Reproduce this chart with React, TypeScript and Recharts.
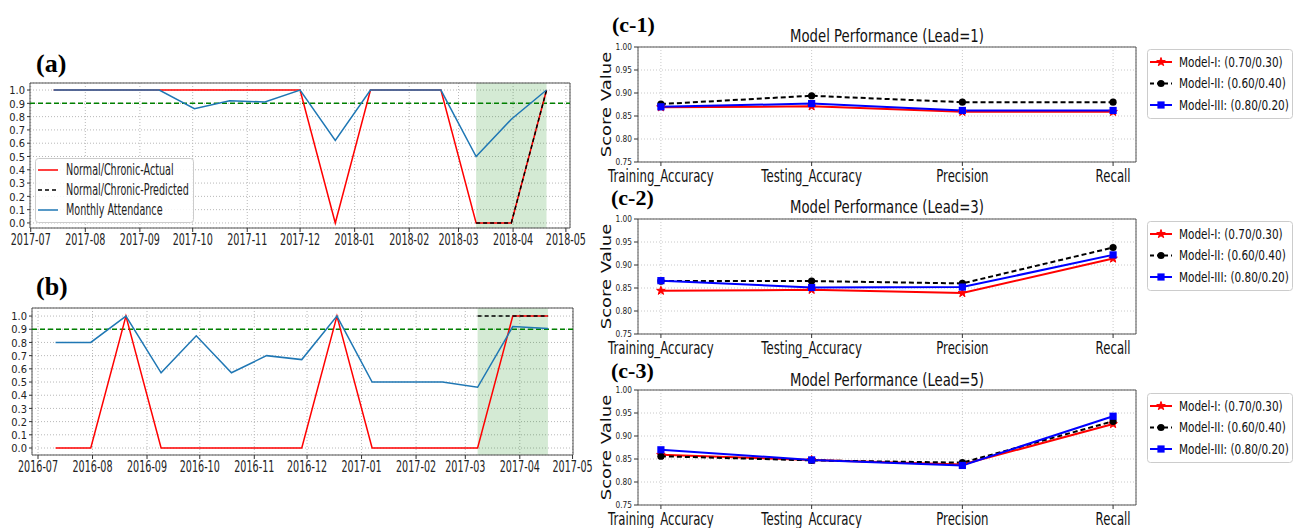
import React from "react";
import {
  LineChart,
  Line,
  XAxis,
  YAxis,
  CartesianGrid,
  ReferenceArea,
  ReferenceLine,
} from "recharts";

const DJ = "'DejaVu Sans', sans-serif";
const SERIF = "'Liberation Serif', 'DejaVu Serif', serif";

// ---- panel (a): 2017-07 .. 2018-05
const datesA = [
  "2017-07-14", "2017-08-03", "2017-08-23", "2017-09-12", "2017-10-02",
  "2017-10-22", "2017-11-11", "2017-12-01", "2017-12-21", "2018-01-10",
  "2018-01-30", "2018-02-19", "2018-03-11", "2018-03-31", "2018-04-20",
];
const attendanceA = [1, 1, 1, 1, 0.86, 0.92, 0.91, 1, 0.62, 1, 1, 1, 0.5, 0.78, 1];
const actualA = [1, 1, 1, 1, 1, 1, 1, 1, 0, 1, 1, 1, 0, 0, 1];
const predDatesA = ["2018-03-11", "2018-03-31", "2018-04-20"];
const predictedA = [0, 0, 1];
const shadeA = ["2018-03-11", "2018-04-20"];
const monthTicksA = [
  "2017-07", "2017-08", "2017-09", "2017-10", "2017-11", "2017-12",
  "2018-01", "2018-02", "2018-03", "2018-04", "2018-05",
];

// ---- panel (b): 2016-07 .. 2017-05
const datesB = [
  "2016-07-11", "2016-07-31", "2016-08-20", "2016-09-09", "2016-09-29",
  "2016-10-19", "2016-11-08", "2016-11-28", "2016-12-18", "2017-01-07",
  "2017-01-27", "2017-02-16", "2017-03-08", "2017-03-28", "2017-04-17",
];
const attendanceB = [0.8, 0.8, 1, 0.57, 0.85, 0.57, 0.7, 0.67, 1, 0.5, 0.5, 0.5, 0.46, 0.92, 0.905];
const actualB = [0, 0, 1, 0, 0, 0, 0, 0, 1, 0, 0, 0, 0, 1, 1];
const predDatesB = ["2017-03-08", "2017-03-28", "2017-04-17"];
const predictedB = [1, 1, 1];
const shadeB = ["2017-03-08", "2017-04-17"];
const monthTicksB = [
  "2016-07", "2016-08", "2016-09", "2016-10", "2016-11", "2016-12",
  "2017-01", "2017-02", "2017-03", "2017-04", "2017-05",
];
const attendanceTicks = [0, 0.1, 0.2, 0.3, 0.4, 0.5, 0.6, 0.7, 0.8, 0.9, 1.0];
const chronicThreshold = 0.9;

// ---- panels (c): model performance
const categories = ["Training_Accuracy", "Testing_Accuracy", "Precision", "Recall"];
const lead1M1 = [0.869, 0.871, 0.859, 0.859];
const lead1M2 = [0.876, 0.894, 0.88, 0.88];
const lead1M3 = [0.87, 0.877, 0.862, 0.862];
const lead3M1 = [0.844, 0.846, 0.839, 0.914];
const lead3M2 = [0.865, 0.865, 0.86, 0.938];
const lead3M3 = [0.866, 0.851, 0.852, 0.922];
const lead5M1 = [0.859, 0.848, 0.838, 0.926];
const lead5M2 = [0.856, 0.847, 0.842, 0.932];
const lead5M3 = [0.87, 0.848, 0.836, 0.943];
const scoreTicks = [0.75, 0.8, 0.85, 0.9, 0.95, 1.0];
const modelNames = ["Model-I: (0.70/0.30)", "Model-II: (0.60/0.40)", "Model-III: (0.80/0.20)"];
const attendanceNames = ["Normal/Chronic-Actual", "Normal/Chronic-Predicted", "Monthly Attendance"];

const toTs = (s: string) =>
  Date.parse(s.length === 7 ? `${s}-01T00:00:00Z` : s.length === 10 ? `${s}T00:00:00Z` : `${s}:00Z`);
const fmtMonth = (t: number) => new Date(t).toISOString().slice(0, 7);

// the source figure is squeezed sideways, so text is drawn with a horizontal scale
function NText(p: {
  x: number; y: number; size: number; sx?: number; anchor?: string; fill?: string;
  family?: string; weight?: string; rotate?: number; children: React.ReactNode;
}) {
  return (
    <text
      transform={`translate(${p.x},${p.y}) scale(${p.sx ?? 1},1)${p.rotate ? ` rotate(${p.rotate})` : ""}`}
      textAnchor={(p.anchor ?? "start") as any}
      dominantBaseline="central"
      fontSize={p.size}
      fontFamily={p.family ?? DJ}
      fontWeight={p.weight}
      fill={p.fill ?? "#111"}
    >
      {p.children}
    </text>
  );
}

function starPath(cx: number, cy: number, R: number, r: number) {
  let d = "";
  for (let k = 0; k < 10; k++) {
    const a = ((-90 + k * 36) * Math.PI) / 180;
    const rad = k % 2 ? r : R;
    d += `${k ? "L" : "M"}${cx + rad * Math.cos(a)},${cy + rad * Math.sin(a)}`;
  }
  return d + "Z";
}

const Star = ({ cx, cy }: any) => <path d={starPath(cx, cy, 4.5, 1.8)} fill="#ff0000" stroke="#ff0000" />;
const Dot = ({ cx, cy }: any) => <circle cx={cx} cy={cy} r={3.6} fill="#000" />;
const Square = ({ cx, cy }: any) => <rect x={cx - 3.6} y={cy - 3.6} width={7.2} height={7.2} fill="#0000ff" />;

interface TimeProps {
  left: number;
  top: number;
  width: number;
  height: number;
  margin: { top: number; right: number; left: number; bottom: number };
  yWidth: number;
  dates: string[];
  attendance: number[];
  actual: number[];
  predDates: string[];
  predicted: number[];
  shade: string[];
  ticks: string[];
  domain: string[];
  yDomain: number[];
}

function TimePanel(p: TimeProps) {
  const att = p.dates.map((d, i) => ({ t: toTs(d), v: p.attendance[i] }));
  const act = p.dates.map((d, i) => ({ t: toTs(d), v: p.actual[i] }));
  const pred = p.predDates.map((d, i) => ({ t: toTs(d), v: p.predicted[i] }));
  return (
    <div style={{ position: "absolute", left: p.left, top: p.top }}>
      <LineChart width={p.width} height={p.height} margin={p.margin}>
        <ReferenceArea x1={toTs(p.shade[0])} x2={toTs(p.shade[1])} fill="#008000" fillOpacity={0.17} stroke="none" />
        <CartesianGrid stroke="#b8b8b8" strokeDasharray="1 2" />
        <XAxis
          type="number"
          dataKey="t"
          domain={[toTs(p.domain[0]), toTs(p.domain[1])]}
          allowDataOverflow
          ticks={p.ticks.map(toTs)}
          interval={0}
          height={24}
          axisLine={false}
          tickSize={4}
          tickMargin={1}
          tickLine={{ stroke: "#333" }}
          tick={(t: any) => (
            <NText x={t.x} y={t.y + 7} size={16} sx={0.6} anchor="middle" fill="#222">
              {fmtMonth(t.payload.value)}
            </NText>
          )}
        />
        <YAxis
          type="number"
          domain={p.yDomain}
          allowDataOverflow
          ticks={attendanceTicks}
          interval={0}
          width={p.yWidth}
          axisLine={false}
          tickSize={3}
          tickMargin={2}
          tickLine={{ stroke: "#333" }}
          tick={(t: any) => (
            <NText x={t.x} y={t.y} size={11} sx={0.9} anchor="end" fill="#222">
              {t.payload.value.toFixed(1)}
            </NText>
          )}
        />
        <ReferenceLine y={chronicThreshold} stroke="#008000" strokeDasharray="5 3" strokeWidth={1.5} />
        <Line data={act} dataKey="v" stroke="#ff0000" strokeWidth={1.5} dot={false} isAnimationActive={false} />
        <Line data={pred} dataKey="v" stroke="#000" strokeDasharray="4 3" strokeWidth={1.5} dot={false} isAnimationActive={false} />
        <Line data={att} dataKey="v" stroke="#1f77b4" strokeWidth={1.5} dot={false} isAnimationActive={false} />
        <ReferenceArea y1={p.yDomain[0]} y2={p.yDomain[1]} fill="none" stroke="#555" strokeWidth={1} />
      </LineChart>
    </div>
  );
}

interface ScoreProps {
  top: number;
  height: number;
  m1: number[];
  m2: number[];
  m3: number[];
}

function ScorePanel(p: ScoreProps) {
  const data = categories.map((c, i) => ({ x: i, name: c, m1: p.m1[i], m2: p.m2[i], m3: p.m3[i] }));
  return (
    <div style={{ position: "absolute", left: 590, top: p.top }}>
      <LineChart width={712} height={p.height} data={data} margin={{ top: 47, right: 166, left: 0, bottom: 0 }}>
        <CartesianGrid stroke="#c8c8c8" strokeDasharray="1 2" />
        <XAxis
          type="number"
          dataKey="x"
          domain={[-0.152, 3.152]}
          allowDataOverflow
          ticks={[0, 1, 2, 3]}
          interval={0}
          height={p.height - 47 - 115}
          axisLine={false}
          tickSize={4}
          tickMargin={2}
          tickLine={{ stroke: "#333" }}
          tick={(t: any) => (
            <NText x={t.x} y={t.y + 8} size={17} sx={0.69} anchor="middle">
              {categories[t.payload.value]}
            </NText>
          )}
        />
        <YAxis
          type="number"
          domain={[0.75, 1.0]}
          ticks={scoreTicks}
          interval={0}
          width={48}
          axisLine={false}
          tickSize={4}
          tickMargin={2}
          tickLine={{ stroke: "#333" }}
          tick={(t: any) => (
            <NText x={t.x} y={t.y} size={9.5} sx={0.78} anchor="end" fill="#222">
              {t.payload.value.toFixed(2)}
            </NText>
          )}
          label={{
            content: ({ viewBox }: any) => (
              <NText x={viewBox.x + 16} y={viewBox.y + viewBox.height / 2} size={18} sx={0.82} rotate={-90} anchor="middle">
                Score Value
              </NText>
            ),
          }}
        />
        <Line dataKey="m1" stroke="#ff0000" strokeWidth={2} dot={(d: any) => <Star key={`s${d.index}`} cx={d.cx} cy={d.cy} />} isAnimationActive={false} />
        <Line dataKey="m2" stroke="#000" strokeWidth={2} strokeDasharray="5 3" dot={(d: any) => <Dot key={`c${d.index}`} cx={d.cx} cy={d.cy} />} isAnimationActive={false} />
        <Line dataKey="m3" stroke="#0000ff" strokeWidth={2} dot={(d: any) => <Square key={`q${d.index}`} cx={d.cx} cy={d.cy} />} isAnimationActive={false} />
        <ReferenceArea y1={0.75} y2={1.0} fill="none" stroke="#555" strokeWidth={1} />
      </LineChart>
    </div>
  );
}

const attendanceStyles = [
  { color: "#ff0000", dash: undefined },
  { color: "#000", dash: "4 3" },
  { color: "#1f77b4", dash: undefined },
];

function AttendanceLegend() {
  return (
    <g>
      <rect x={35.5} y={158.5} width={158} height={64} rx={3} fill="#fff" fillOpacity={0.85} stroke="#ccc" />
      {attendanceStyles.map((e, i) => {
        const y = 170 + i * 20;
        return (
          <g key={i}>
            <line x1={38} x2={58} y1={y} y2={y} stroke={e.color} strokeWidth={1.5} strokeDasharray={e.dash} />
            <NText x={66} y={y} size={15} sx={0.64} fill="#222">
              {attendanceNames[i]}
            </NText>
          </g>
        );
      })}
    </g>
  );
}

const modelStyles = [
  { color: "#ff0000", dash: undefined, mark: (x: number, y: number) => <Star cx={x} cy={y} /> },
  { color: "#000", dash: "4 3", mark: (x: number, y: number) => <Dot cx={x} cy={y} /> },
  { color: "#0000ff", dash: undefined, mark: (x: number, y: number) => <Square cx={x} cy={y} /> },
];

function ModelLegend({ top }: { top: number }) {
  return (
    <g>
      <rect x={1147.5} y={top + 0.5} width={145} height={69} rx={3} fill="#fff" stroke="#ccc" />
      {modelStyles.map((r, i) => {
        const y = top + 13 + i * 21.5;
        return (
          <g key={i}>
            <line x1={1150} x2={1172} y1={y} y2={y} stroke={r.color} strokeWidth={2} strokeDasharray={r.dash} />
            {r.mark(1161, y)}
            <NText x={1179} y={y} size={14} sx={0.75}>
              {modelNames[i]}
            </NText>
          </g>
        );
      })}
    </g>
  );
}

export default function App() {
  return (
    <div style={{ position: "absolute", left: 0, top: 0, width: 1302, height: 528, overflow: "hidden", background: "#fff" }}>
      <TimePanel
        left={0} top={0} width={600} height={252}
        margin={{ top: 83, right: 30, left: 0, bottom: 0 }} yWidth={30}
        dates={datesA} attendance={attendanceA} actual={actualA}
        predDates={predDatesA} predicted={predictedA} shade={shadeA}
        ticks={monthTicksA} domain={["2017-06-30T14:00", "2018-05-03T08:00"]} yDomain={[-0.038, 1.053]}
      />
      <TimePanel
        left={0} top={250} width={600} height={229}
        margin={{ top: 58, right: 27, left: 0, bottom: 0 }} yWidth={32}
        dates={datesB} attendance={attendanceB} actual={actualB}
        predDates={predDatesB} predicted={predictedB} shade={shadeB}
        ticks={monthTicksB} domain={["2016-06-27T14:00", "2017-05-01T06:00"]} yDomain={[-0.053, 1.061]}
      />
      <ScorePanel top={0} height={190} m1={lead1M1} m2={lead1M2} m3={lead1M3} />
      <ScorePanel top={172} height={190} m1={lead3M1} m2={lead3M2} m3={lead3M3} />
      <ScorePanel top={343} height={185} m1={lead5M1} m2={lead5M2} m3={lead5M3} />

      <svg width={1302} height={528} style={{ position: "absolute", left: 0, top: 0, pointerEvents: "none" }}>
        <AttendanceLegend />
        <NText x={36} y={63} size={26} family={SERIF} weight="bold" fill="#000">(a)</NText>
        <NText x={36} y={286} size={26} family={SERIF} weight="bold" fill="#000">(b)</NText>
        <NText x={612} y={24} size={22} family={SERIF} weight="bold" fill="#000">(c-1)</NText>
        <NText x={611} y={197} size={22} family={SERIF} weight="bold" fill="#000">(c-2)</NText>
        <NText x={611} y={370} size={22} family={SERIF} weight="bold" fill="#000">(c-3)</NText>
        <NText x={887} y={36} size={17} sx={0.78} anchor="middle">Model Performance (Lead=1)</NText>
        <NText x={887} y={207} size={17} sx={0.78} anchor="middle">Model Performance (Lead=3)</NText>
        <NText x={887} y={380} size={17} sx={0.78} anchor="middle">Model Performance (Lead=5)</NText>
        <ModelLegend top={49} />
        <ModelLegend top={221} />
        <ModelLegend top={393} />
      </svg>
    </div>
  );
}
